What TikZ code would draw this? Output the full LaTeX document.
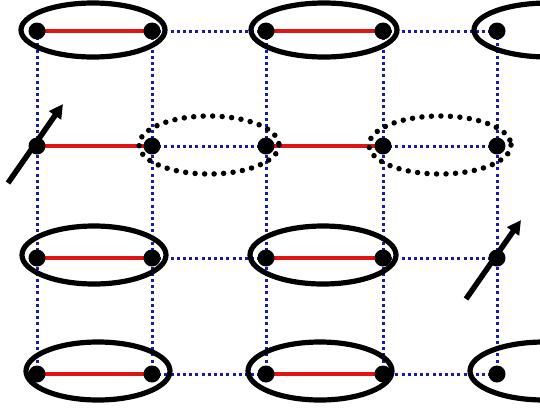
\documentclass[tikz,border=0pt]{standalone}
\usetikzlibrary{arrows.meta}
\definecolor{bondred}{RGB}{225,20,20}
\definecolor{linkblue}{RGB}{25,25,170}
\begin{document}
\begin{tikzpicture}[x=1pt,y=-1pt,
  site/.style={circle,fill=black,inner sep=0pt,minimum size=17pt},
  weak/.style={linkblue,line width=3pt,dash pattern=on 3pt off 3.2pt},
  bond/.style={bondred,line width=3.6pt},
  pair/.style={black,line width=5.2pt},
  brokenpair/.style={black,line width=5.5pt,line cap=round,dash pattern=on 0pt off 9.5pt},
  spin/.style={black,line width=5.5pt,-{Triangle[length=14pt,width=14pt]}}]
\useasboundingbox (0,0) rectangle (540,410);
\clip (0,0) rectangle (540,410);
% sites
\foreach \c/\x in {0/37,1/152,2/266,3/383,4/497}{
  \foreach \r/\y in {0/31,1/146,2/258,3/374}{
    \coordinate (p\c\r) at (\x,\y);
  }
}
% vertical weak links
\foreach \c in {0,...,4}{
  \draw[weak] (p\c0) -- (p\c3);
}
% horizontal weak links
\foreach \r in {0,...,3}{
  \draw[weak] (p1\r) -- (p2\r);
  \draw[weak] (p3\r) -- (p4\r);
}
% red bonds
\foreach \r in {0,...,3}{
  \draw[bond] (p0\r) -- (p1\r);
  \draw[bond] (p2\r) -- (p3\r);
}
% singlet ellipses
\draw[pair] (93,30) ellipse [x radius=72, y radius=27];
\draw[pair] (324,30) ellipse [x radius=73, y radius=27];
\draw[pair] (548,30) ellipse [x radius=74, y radius=27];
\draw[pair] (94,255) ellipse [x radius=72, y radius=29];
\draw[pair] (323,255) ellipse [x radius=73, y radius=29];
\draw[pair] (98,371) ellipse [x radius=72, y radius=29];
\draw[pair] (320,371) ellipse [x radius=72, y radius=29];
\draw[pair] (544,371) ellipse [x radius=74, y radius=29];
% broken (dotted) ellipses
\draw[brokenpair] (209,145) ellipse [x radius=70, y radius=29];
\draw[brokenpair] (440,145) ellipse [x radius=71, y radius=29];
% site dots
\foreach \c in {0,...,4}{
  \foreach \r in {0,...,3}{
    \node[site] (s\c\r) at (p\c\r) {};
  }
}
% spins
\coordinate (a1s) at (8,183);
\coordinate (a1e) at (63,104);
\coordinate (a2s) at (466,299);
\coordinate (a2e) at (521,220);
\draw[spin] (a1s) -- (a1e);
\draw[spin] (a2s) -- (a2e);
\end{tikzpicture}
\end{document}
